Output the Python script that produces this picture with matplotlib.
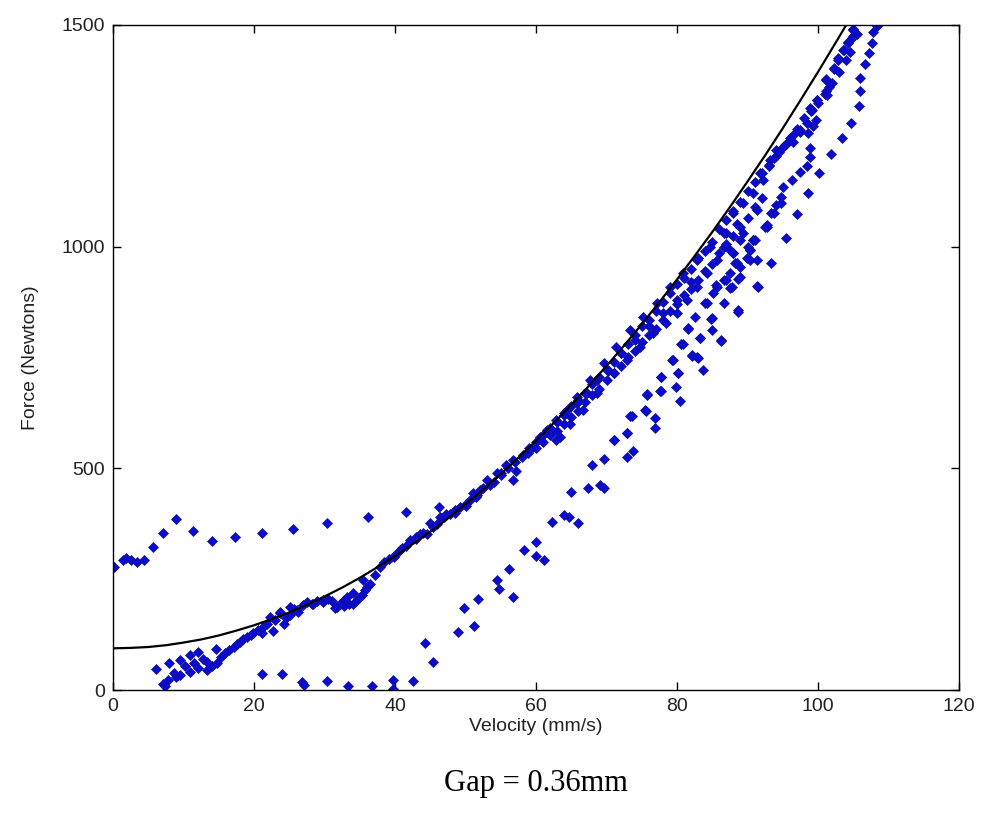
import numpy as np
import matplotlib.pyplot as plt

plt.rcParams['font.family'] = ['Liberation Sans', 'DejaVu Sans']

# fitted curve (Velocity mm/s, Force N)
fit_v = [0, 2.5, 5, 7.5, 10, 12.5, 15, 17.5, 20, 22.5, 25, 27.5, 30, 32.5, 35, 37.5, 40, 42.5,
         45, 47.5, 50, 52.5, 55, 57.5, 60, 62.5, 65, 67.5, 70, 72.5, 75, 77.5, 80, 82.5, 85,
         87.5, 90, 92.5, 95, 97.5, 100, 102.5, 104]
fit_f = [94, 95, 97, 101, 107, 114, 123, 134, 146, 160, 175, 192, 211, 231, 253, 277, 302, 329,
         357, 387, 419, 452, 487, 524, 562, 602, 643, 686, 731, 777, 825, 875, 926, 979, 1033,
         1089, 1147, 1206, 1267, 1330, 1394, 1460, 1500]

# points above the curve at low speed
upper_left_v = [0.2, 1.4, 1.9, 2.5, 3.4, 4.4, 5.7, 7.1, 9.0, 11.3, 14.1, 17.3, 21.2, 25.5, 30.4, 36.1, 41.6, 46.2]
upper_left_f = [277, 293, 297, 293, 289, 293, 323, 355, 385, 359, 337, 344, 355, 363, 377, 390, 402, 412]

# points along the floor
floor_v = [21.2, 23.9, 26.8, 27.1, 30.3, 33.3, 36.8, 39.7, 39.7, 42.6]
floor_f = [35, 35, 19, 12, 21, 10, 9, 23, 2, 21]

# main band
band_v = [6.1, 7.1, 7.4, 7.8, 8.0, 8.6, 9.0, 9.5, 9.5, 10.2, 10.9, 10.9, 11.5, 12.1, 12.1, 12.8,
          13.3, 13.3, 14.0, 14.6, 14.7, 15.3, 15.9, 16.5, 17.1, 17.6, 18.0, 18.5, 19.0, 19.5,
          19.9, 20.5, 21.1, 21.3, 21.8, 22.3, 22.7, 23.0, 23.7, 23.7, 24.2, 24.6, 25.1, 25.1,
          25.7, 26.1, 26.3, 27.0, 27.5, 28.2, 28.4, 29.0, 29.8, 29.8, 30.5, 31.0, 31.5, 31.7,
          32.2, 32.7, 32.8, 33.2, 33.5, 34.0, 34.1, 34.5, 35.0, 35.3, 35.5, 35.8, 36.0, 36.5,
          37.2, 37.9, 38.5, 39.2, 39.8, 40.7, 41.0, 42.1, 43.0, 43.5, 44.5, 45.0, 45.4, 46.4,
          47.3, 47.8, 48.5, 49.2, 50.0, 50.6, 51.1, 51.6, 52.1, 53.0, 53.5, 54.4, 55.0, 55.8,
          56.8, 56.8, 57.2, 58.2, 58.8, 59.6, 60.6, 61.5, 62.0, 62.9, 62.9, 63.4, 63.9, 64.4,
          64.8, 65.8, 65.8, 66.7, 67.2, 67.7, 68.6, 68.6, 69.6, 70.2, 71.0, 71.4, 72.0, 72.9,
          73.3, 74.0, 74.8, 75.2, 76.0, 76.6, 77.1, 78.0, 78.5, 79.0, 80.0, 80.0, 80.9, 81.4,
          82.0, 82.8, 82.8, 84.2, 84.7, 85.6, 86.6, 86.6, 87.0, 87.5, 88.0, 88.0, 88.5, 88.9,
          89.4, 89.4, 90.0, 90.4, 90.8, 90.8, 91.1, 91.8, 92.2, 92.7, 93.2, 94.1, 95.6, 96.5,
          97.4, 98.4, 98.9, 99.8, 101.2, 101.2, 102.2, 102.9, 103.6, 104.3, 104.9, 105.0]
band_f = [47, 14, 8, 23, 60, 38, 30, 68, 34, 55, 79, 41, 62, 86, 49, 70,
          64, 45, 55, 92, 62, 75, 83, 90, 98, 104, 109, 115, 120, 124,
          128, 135, 128, 143, 150, 165, 132, 158, 177, 173, 150, 162, 169, 188,
          183, 180, 177, 192, 198, 195, 195, 200, 199, 203, 205, 200, 185, 188,
          195, 203, 190, 210, 195, 195, 218, 200, 210, 215, 248, 225, 232, 240,
          260, 278, 288, 295, 301, 316, 320, 338, 340, 353, 353, 376, 368, 391,
          398, 398, 405, 413, 420, 429, 444, 440, 451, 474, 462, 489, 490, 508,
          519, 474, 495, 530, 535, 549, 571, 587, 579, 609, 564, 571, 624, 632,
          601, 647, 662, 632, 669, 699, 699, 669, 737, 720, 714, 774, 760, 744,
          812, 790, 774, 842, 820, 805, 872, 850, 827, 910, 850, 880, 940, 880,
          920, 970, 910, 940, 1000, 970, 1030, 1000, 1030, 993, 985, 1075, 1052, 1015,
          1098, 1030, 1000, 993, 1120, 1015, 1015, 1166, 1150, 1045, 1196, 1218, 1233, 1252,
          1263, 1278, 1312, 1331, 1350, 1376, 1402, 1425, 1444, 1462, 1474, 1492]

# band points sitting on / just under the curve
band_top_v = [40, 41.5, 43, 44, 46, 47, 48.5, 50, 51.5, 52.5, 54, 55, 56, 57, 58, 59, 60, 61, 62,
              63, 64, 65, 66, 67, 68, 69, 70, 71, 72, 73, 74, 75, 76, 77, 78, 79, 80, 81, 82,
              83, 84, 85, 86, 87, 88, 89, 90, 91, 92, 93, 94, 95, 96, 97, 98, 99, 100, 101,
              102, 103, 104, 104.5, 105.5]
band_top_f = [305, 325, 345, 355, 375, 390, 400, 415, 435, 455, 470, 485, 500, 515, 525, 545, 560,
              575, 590, 605, 620, 640, 655, 670, 690, 705, 725, 740, 760, 780, 800, 820, 835,
              855, 875, 895, 915, 930, 950, 975, 990, 1010, 1040, 1060, 1080, 1100, 1125, 1145,
              1165, 1185, 1205, 1225, 1245, 1265, 1290, 1305, 1325, 1345, 1370, 1395, 1420,
              1440, 1480]

# lower edge of the band
band_low_v = [60, 61, 62, 63, 64, 65, 66, 67, 68, 69, 70, 71, 72, 73, 74, 75, 76, 77, 78, 79,
              80, 81, 82, 83, 84, 85, 86, 87, 88, 89, 90, 91, 92]
band_low_f = [545, 560, 575, 585, 600, 615, 630, 650, 665, 680, 700, 715, 730, 750, 765, 785,
              800, 815, 835, 855, 870, 890, 905, 925, 945, 960, 985, 1005, 1025, 1045, 1065,
              1090, 1110]

# middle strand at high speed
mid_v = [71.0, 72.9, 73.6, 75.5, 75.7, 76.9, 76.9, 77.6, 77.7, 79.3, 79.9, 80.2, 80.6, 81.6,
         82.1, 82.6, 83.0, 83.3, 84.0, 84.2, 84.8, 84.9, 84.9, 85.1, 85.5, 85.6, 86.2, 86.6,
         86.6, 87.0, 87.5, 87.5, 87.8, 88.0, 88.2, 88.5, 88.7, 88.7, 88.9, 88.9, 89.9, 90.4,
         90.4, 90.8, 91.3, 91.3, 91.5, 92.5, 92.7, 93.0, 93.4, 93.7, 93.7, 94.1, 94.4, 94.8,
         94.8, 95.1, 95.3, 96.3, 96.4, 97.4, 97.4, 98.5, 98.6, 98.8, 98.9, 99.1, 99.3, 99.7,
         99.9, 101.3, 101.5, 101.2, 102.2, 102.9, 103.7, 104.2, 104.8, 105.0]
mid_f = [565, 579, 617, 632, 665, 613, 590, 675, 707, 744, 684, 714, 780, 816,
         756, 842, 748, 793, 872, 872, 837, 838, 812, 895, 914, 910, 790, 872,
         925, 925, 906, 940, 910, 985, 962, 962, 928, 856, 932, 955, 974, 993,
         970, 1015, 1083, 970, 910, 1045, 1049, 1181, 1075, 1199, 1075, 1094, 1214, 1113,
         1098, 1135, 1229, 1150, 1237, 1169, 1259, 1181, 1256, 1203, 1222, 1308, 1271, 1286,
         1331, 1342, 1361, 1378, 1400, 1421, 1444, 1459, 1470, 1489]

# outer dotted branch
outer_v = [44.3, 45.4, 49.0, 49.8, 51.2, 51.8, 54.5, 54.8, 56.2, 56.7, 58.3, 60.0, 60.0, 61.2,
           62.3, 63.9, 64.7, 65.9, 65.0, 67.4, 68.0, 69.1, 69.6, 69.7, 71.1, 72.9, 72.9, 73.8,
           73.4, 75.6, 75.8, 77.7, 77.7, 79.4, 80.4, 80.1, 80.8, 81.5, 82.1, 82.9, 83.2, 83.7,
           86.2, 88.6, 91.4, 93.3, 95.5, 97.0, 98.6, 100.2, 101.9, 103.4, 104.7, 105.8, 106.0,
           106.0, 106.7, 107.2, 107.7, 107.8, 108.3]
outer_f = [107, 64, 130, 184, 145, 205, 248, 227, 274, 210, 315, 333, 303, 293,
           380, 395, 390, 376, 446, 456, 508, 462, 455, 520, 565, 579, 525, 540,
           618, 630, 667, 674, 705, 744, 652, 714, 780, 814, 753, 750, 793, 722,
           788, 853, 911, 963, 1020, 1074, 1120, 1166, 1209, 1245, 1278, 1317, 1350,
           1380, 1411, 1436, 1460, 1485, 1498]

fig = plt.figure(figsize=(9.82, 8.16), dpi=100)
ax = fig.add_axes([0.1151, 0.1544, 0.8615, 0.815])

pt_color = '#0b0bd0'
for v, f in [(upper_left_v, upper_left_f), (floor_v, floor_f), (band_v, band_f),
             (band_top_v, band_top_f), (band_low_v, band_low_f),
             (mid_v, mid_f), (outer_v, outer_f)]:
    ax.plot(v, f, linestyle='none', marker='D', markersize=5.3,
            color=pt_color, markeredgecolor='#10109a', markeredgewidth=0.5, zorder=2)

ax.plot(fit_v, fit_f, color='black', linewidth=1.6, zorder=3)

ax.set_xlim(0, 120)
ax.set_ylim(0, 1500)
ax.set_xticks(range(0, 121, 20))
ax.set_yticks([0, 500, 1000, 1500])
ax.tick_params(direction='in', length=6, width=1, top=True, right=True,
               labelsize=14, pad=6, labelcolor='#222222')
for s in ax.spines.values():
    s.set_linewidth(1)

ax.set_xlabel('Velocity (mm/s)', fontsize=14, labelpad=2, color='#222222')
ax.set_ylabel('Force (Newtons)', fontsize=14, labelpad=16, color='#222222')

fig.text(0.546, 0.04, 'Gap = 0.36mm', ha='center', va='center',
         fontsize=22, family='Liberation Serif')

fig.savefig('out.png', dpi=100)
